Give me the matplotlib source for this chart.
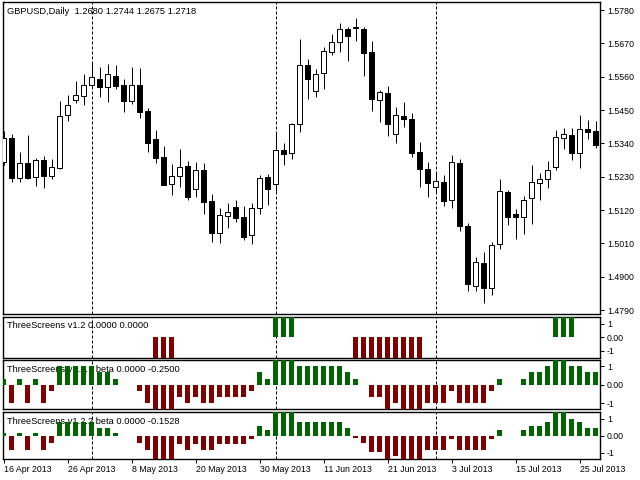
import matplotlib
matplotlib.use('Agg')
import matplotlib.pyplot as plt
import numpy as np

plt.rcParams['font.family'] = ['Liberation Sans', 'DejaVu Sans']

# GBPUSD daily, 16 Apr 2013 .. 29 Jul 2013 (75 bars)
opens = [1.5280, 1.5357, 1.5227, 1.5274, 1.5230, 1.5285, 1.5232, 1.5260, 1.5433, 1.5484,
         1.5497, 1.5533, 1.5551, 1.5527, 1.5562, 1.5533, 1.5481, 1.5533, 1.5447, 1.5354,
         1.5294, 1.5205, 1.5231, 1.5264, 1.5189, 1.5252, 1.5150, 1.5044, 1.5102, 1.5130,
         1.5097, 1.5037, 1.5126, 1.5229, 1.5205, 1.5318, 1.5307, 1.5403, 1.5598, 1.5513,
         1.5571, 1.5640, 1.5673, 1.5716, 1.5724, 1.5716, 1.5640, 1.5483, 1.5505, 1.5370,
         1.5430, 1.5420, 1.5312, 1.5255, 1.5197, 1.5212, 1.5153, 1.5275, 1.5068, 1.4869,
         1.4946, 1.4862, 1.5007, 1.5180, 1.5107, 1.5096, 1.5159, 1.5208, 1.5222, 1.5263,
         1.5357, 1.5368, 1.5309, 1.5387, 1.5381]
highs = [1.5381, 1.5370, 1.5312, 1.5368, 1.5293, 1.5298, 1.5289, 1.5480, 1.5500, 1.5545,
         1.5569, 1.5607, 1.5591, 1.5601, 1.5599, 1.5551, 1.5591, 1.5588, 1.5458, 1.5384,
         1.5331, 1.5272, 1.5322, 1.5282, 1.5278, 1.5274, 1.5173, 1.5126, 1.5142, 1.5153,
         1.5134, 1.5142, 1.5236, 1.5239, 1.5375, 1.5341, 1.5408, 1.5684, 1.5617, 1.5584,
         1.5659, 1.5701, 1.5736, 1.5725, 1.5753, 1.5723, 1.5677, 1.5516, 1.5529, 1.5461,
         1.5476, 1.5439, 1.5344, 1.5278, 1.5250, 1.5236, 1.5302, 1.5288, 1.5078, 1.4965,
         1.4982, 1.5016, 1.5223, 1.5186, 1.5124, 1.5167, 1.5269, 1.5241, 1.5282, 1.5384,
         1.5390, 1.5390, 1.5434, 1.5417, 1.5414]
lows = [1.5269, 1.5214, 1.5214, 1.5222, 1.5200, 1.5194, 1.5223, 1.5256, 1.5415, 1.5474,
        1.5467, 1.5522, 1.5494, 1.5478, 1.5520, 1.5445, 1.5469, 1.5425, 1.5313, 1.5276,
        1.5202, 1.5171, 1.5195, 1.5154, 1.5164, 1.5108, 1.5016, 1.5011, 1.5062, 1.5081,
        1.5021, 1.5007, 1.5106, 1.5137, 1.5183, 1.5270, 1.5288, 1.5379, 1.5485, 1.5494,
        1.5520, 1.5632, 1.5641, 1.5613, 1.5679, 1.5563, 1.5448, 1.5412, 1.5365, 1.5340,
        1.5395, 1.5296, 1.5197, 1.5164, 1.5181, 1.5135, 1.5128, 1.5052, 1.4854, 1.4854,
        1.4813, 1.4840, 1.4993, 1.5071, 1.5026, 1.5041, 1.5074, 1.5153, 1.5194, 1.5252,
        1.5323, 1.5285, 1.5260, 1.5355, 1.5326]
closes = [1.5357, 1.5227, 1.5274, 1.5227, 1.5285, 1.5232, 1.5261, 1.5429, 1.5466, 1.5499,
          1.5533, 1.5558, 1.5527, 1.5568, 1.5530, 1.5481, 1.5533, 1.5445, 1.5342, 1.5293,
          1.5204, 1.5231, 1.5263, 1.5164, 1.5251, 1.5148, 1.5044, 1.5103, 1.5115, 1.5095,
          1.5032, 1.5126, 1.5225, 1.5191, 1.5318, 1.5306, 1.5403, 1.5598, 1.5551, 1.5568,
          1.5644, 1.5673, 1.5716, 1.5695, 1.5720, 1.5639, 1.5485, 1.5509, 1.5403, 1.5433,
          1.5420, 1.5309, 1.5255, 1.5208, 1.5215, 1.5151, 1.5279, 1.5069, 1.4875, 1.4948,
          1.4862, 1.5004, 1.5183, 1.5096, 1.5096, 1.5153, 1.5213, 1.5223, 1.5251, 1.5360,
          1.5371, 1.5309, 1.5387, 1.5379, 1.5336]

# indicator windows
ts12 = [0, 0, 0, 0, 0, 0, 0, 0, 0, 0,
        0, 0, 0, 0, 0, 0, 0, 0, 0, -1.5,
        -1.5, -1.5, 0, 0, 0, 0, 0, 0, 0, 0,
        0, 0, 0, 0, 1.5, 1.5, 1.5, 0, 0, 0,
        0, 0, 0, 0, -1.5, -1.5, -1.5, -1.5, -1.5, -1.5,
        -1.5, -1.5, -1.5, 0, 0, 0, 0, 0, 0, 0,
        0, 0, 0, 0, 0, 0, 0, 0, 0, 1.5,
        1.5, 1.5, 0, 0, 0]
ts121 = [0.33, -1, 0.33, -1, 0.33, -1, -0.33, 1, 1, 1,
         1, 1, 0.67, 0.67, 0.33, 0, 0, -0.33, -1, -1.33,
         -1.33, -1.33, -0.67, -1, -0.67, -1, -1, -0.67, -0.67, -0.67,
         -0.67, -0.33, 0.67, 0.33, 1.33, 1.33, 1.33, 1, 1, 1,
         1, 1, 1, 0.67, 0.33, 0, -0.67, -0.67, -1.33, -1,
         -1.33, -1.33, -1.33, -1, -1, -1, -0.33, -1, -1, -1,
         -1, -0.33, 0.33, 0, 0, 0.33, 0.67, 0.67, 1, 1.33,
         1.33, 1, 1, 0.67, 0.67]
ts122 = [0.18, -0.84, 0.18, -0.84, 0.18, -0.84, -0.41, 0.82, 0.82, 0.82,
         0.82, 0.82, 0.47, 0.47, 0.18, 0, 0, -0.41, -0.84, -1.37,
         -1.37, -1.37, -0.51, -0.84, -0.51, -0.84, -0.84, -0.51, -0.51, -0.51,
         -0.51, -0.22, 0.57, 0.33, 1.37, 1.37, 1.37, 0.82, 0.82, 0.82,
         0.82, 0.82, 0.82, 0.47, -0.12, -0.41, -0.94, -0.94, -1.37, -1.18,
         -1.37, -1.37, -1.37, -0.84, -0.84, -0.84, -0.22, -0.84, -0.84, -0.84,
         -0.84, -0.22, 0.33, 0, 0, 0.33, 0.57, 0.57, 0.82, 1.37,
         1.37, 0.98, 0.82, 0.47, 0.47]

date_ticks = [0, 8, 16, 24, 32, 40, 48, 56, 64, 72]
date_labels = ["16 Apr 2013", "26 Apr 2013", "8 May 2013", "20 May 2013", "30 May 2013",
               "11 Jun 2013", "21 Jun 2013", "3 Jul 2013", "15 Jul 2013", "25 Jul 2013"]
month_starts = [11, 34, 54]
price_ticks = [1.4790, 1.4900, 1.5010, 1.5120, 1.5230, 1.5340, 1.5450, 1.5560, 1.5670, 1.5780]

header = "GBPUSD,Daily  1.2680 1.2744 1.2675 1.2718"
titles = ["ThreeScreens v1.2 0.0000 0.0000",
          "ThreeScreens v1.2.1 beta 0.0000 -0.2500",
          "ThreeScreens v1.2.2 beta 0.0000 -0.1528"]

GREEN = '#006400'
RED = '#800000'
FS = 6.3
TFS = 6.7


def box(l, t, r, b):
    return [l / 640, 1 - b / 480, (r - l) / 640, (b - t) / 480]


fig = plt.figure(figsize=(6.4, 4.8), dpi=100)
ax0 = fig.add_axes(box(2.5, 2, 600, 314.3))
ax1 = fig.add_axes(box(2.5, 316.7, 600, 357.7))
ax2 = fig.add_axes(box(2.5, 360.3, 600, 409.3))
ax3 = fig.add_axes(box(2.5, 411.7, 600, 459))
axes = [ax0, ax1, ax2, ax3]

x = np.arange(len(opens))
o = np.array(opens)
h = np.array(highs)
l = np.array(lows)
c = np.array(closes)

# candles
ax0.vlines(x, l, h, color='black', lw=0.72, zorder=2)
fills = ['white' if cc >= oo else 'black' for oo, cc in zip(o, c)]
ax0.bar(x, np.maximum(np.abs(c - o), 0.00015), bottom=np.minimum(o, c), width=0.6,
        color=fills, edgecolor='black', linewidth=0.72, zorder=3)
ax0.set_ylim(1.47763, 1.58064)
ax0.set_yticks(price_ticks)
ax0.set_yticklabels(['%.4f' % p for p in price_ticks])
ax0.text(4.5 / 597.5, 0.971, header, transform=ax0.transAxes, fontsize=TFS,
         va='center', ha='left', zorder=1)

# indicator histograms
for ax, vals, title, ylim, ty in [(ax1, ts12, titles[0], (-1.5, 1.5), 0.78),
                                  (ax2, ts121, titles[1], (-1.333, 1.333), 0.816),
                                  (ax3, ts122, titles[2], (-1.37, 1.41), 0.789)]:
    v = np.array(vals)
    cols = [GREEN if vv > 0 else RED for vv in v]
    ax.bar(x, v, width=0.62, color=cols, linewidth=0, zorder=3)
    ax.set_ylim(*ylim)
    ax.set_yticks([-1, 0, 1])
    ax.set_yticklabels(['-1', '0.00', '1'])
    ax.text(4.5 / 597.5, ty, title, transform=ax.transAxes, fontsize=TFS,
            va='center', ha='left', zorder=1)

for ax in axes:
    ax.set_xlim(-0.15, 74.54)
    ax.yaxis.tick_right()
    ax.tick_params(axis='y', direction='out', length=3, width=0.7, labelsize=FS, pad=2)
    for s in ax.spines.values():
        s.set_linewidth(1.0)
    for m in month_starts:
        ax.axvline(m, color='black', lw=0.72, ls=(0, (3, 2)), zorder=1.5)
    if ax is not ax3:
        ax.set_xticks([])

ax3.set_xticks(date_ticks)
ax3.set_xticklabels(date_labels)
ax3.tick_params(axis='x', direction='out', length=3, width=0.7, labelsize=FS, pad=1.5)
plt.setp(ax3.get_xticklabels(), ha='left')

plt.savefig('out.png', dpi=100)
